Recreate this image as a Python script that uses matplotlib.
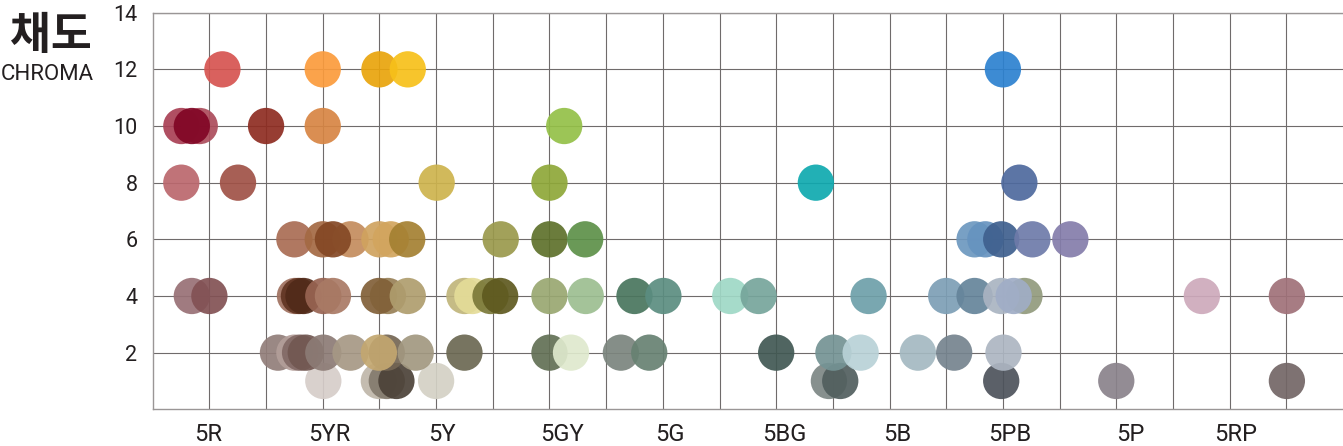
import numpy as np
import matplotlib.pyplot as plt
from matplotlib.colors import to_rgb

# hue position in grid steps (1 = 5R, 3 = 5YR, ... 19 = 5RP), chroma, shown colour
HUE = [3.01, 3.99, 4.13, 4.30, 5.00, 11.93, 12.13, 14.97, 17.00, 20.01,
       2.21, 2.50, 2.60, 2.70, 3.01, 3.49, 4.13, 3.99, 4.64, 5.50,
       7.00, 7.38, 8.26, 8.76, 11.00, 12.01, 12.49, 13.50, 14.14, 15.01,
       0.69, 1.00, 2.51, 2.58, 2.66, 3.01, 3.18, 4.15, 3.99, 4.50,
       5.50, 5.64, 5.96, 6.13, 7.00, 7.64, 8.50, 9.01, 10.19, 10.69,
       12.63, 14.00, 14.50, 15.38, 14.97, 15.19, 18.51, 20.01,
       2.50, 3.00, 3.49, 3.18, 4.00, 4.20, 4.49, 6.14, 7.00, 7.63,
       14.50, 14.69, 14.97, 15.52, 16.19,
       0.505, 1.505, 5.01, 7.00, 11.70, 15.29,
       0.505, 0.83, 0.69, 2.00, 3.00, 7.26,
       1.23, 3.00, 4.00, 4.50, 15.00]
CHROMA = [1] * 10 + [2] * 20 + [4] * 28 + [6] * 15 + [8] * 6 + [10] * 6 + [12] * 5
COLORS = ['#d9d1cd', '#c4bdb1', '#8d8579', '#5a5148', '#d7d5ca', '#87918f', '#5f6b6b', '#5b6068', '#938c94', '#7e7272',
          '#9b8885', '#b9a6a1', '#8c7571', '#7d6560', '#958680', '#ada08f', '#7f7262', '#c8ae7b', '#a9a08a', '#777460',
          '#6f7b63', '#e2ebd1', '#868f88', '#738b7d', '#506561', '#7f9c9d', '#bfd6da', '#abbfc6', '#808d97', '#b4bcc7',
          '#a07b80', '#8c5f62', '#a87c6c', '#6e4535', '#5f3b2b', '#a07060', '#b08571', '#a08a64', '#8b6d48', '#b5a57a',
          '#c5bb86', '#e6dfa0', '#868449', '#6b6631', '#a1ae7c', '#a4c39a', '#58806a', '#68968a', '#a7dbcb', '#81aca3',
          '#7aa8b0', '#87a7bc', '#718ea2', '#9ba287', '#b1bac7', '#a8b4cb', '#d1b0c0', '#a87c84',
          '#b07862', '#ab7552', '#c9956a', '#8e5736', '#d4aa6c', '#d6ac6b', '#ab8a42', '#a2a15a', '#6b7c3c', '#6a9a58',
          '#79a0c4', '#729cc4', '#4e6d97', '#7a86b0', '#8e87b2',
          '#c07379', '#a85f55', '#d1b95b', '#97ae48', '#22b0b5', '#5c75a6',
          '#b04f63', '#b35a68', '#8b1a36', '#973d33', '#da8f52', '#9dc556',
          '#d9625e', '#fba34c', '#ebab1f', '#f8c52c', '#3d8bd4']

HUE_LABELS = ['5R', '5YR', '5Y', '5GY', '5G', '5BG', '5B', '5PB', '5P', '5RP']
LABEL_POS = [0.98, 3.11, 5.10, 7.22, 9.12, 11.14, 13.13, 15.13, 17.24, 19.10]
Y_TICKS = [2, 4, 6, 8, 10, 12, 14]

ALPHA = 0.92
TXT = '#231f20'


def source_colour(c):
    # colour that gives the shown one once blended over white
    rgb = np.array(to_rgb(c))
    return tuple(np.clip((rgb - (1 - ALPHA)) / ALPHA, 0, 1))


fig = plt.figure(figsize=(13.43, 4.46), dpi=100)
ax = fig.add_axes([152.7 / 1343, 36.7 / 446, 1 - 152.7 / 1343, 396.6 / 446])

ax.scatter(HUE, CHROMA, s=683, c=[source_colour(c) for c in COLORS],
           alpha=ALPHA, linewidths=0, zorder=3)

ax.set_xlim(0, 21)
ax.set_ylim(0, 14)
ax.set_xticks(LABEL_POS, HUE_LABELS)
ax.set_xticks(range(1, 21), minor=True)
ax.set_yticks(Y_TICKS)
ax.grid(which='minor', axis='x', color='#6f6b6b', lw=0.8, zorder=1)
ax.grid(which='major', axis='y', color='#6f6b6b', lw=0.8, zorder=1)
ax.tick_params(which='both', length=0)
ax.tick_params(axis='x', pad=10, labelsize=17, labelcolor=TXT)
ax.tick_params(axis='y', pad=11, labelsize=15.5, labelcolor=TXT)
for lab in ax.get_xticklabels() + ax.get_yticklabels():
    lab.set_family('Roboto')

for side in ['left', 'bottom', 'top']:
    ax.spines[side].set_color('#9a9696')
    ax.spines[side].set_linewidth(1.0)
ax.spines['right'].set_visible(False)

fig.text(51 / 1343, 1 - 36 / 446, '채도', family='Noto Sans CJK KR', fontweight='bold',
         fontsize=32, color=TXT, ha='center', va='center')
fig.text(47 / 1343, 1 - 74 / 446, 'CHROMA', family='Roboto',
         fontsize=16, color=TXT, ha='center', va='center')

plt.savefig('out.png', dpi=100)
